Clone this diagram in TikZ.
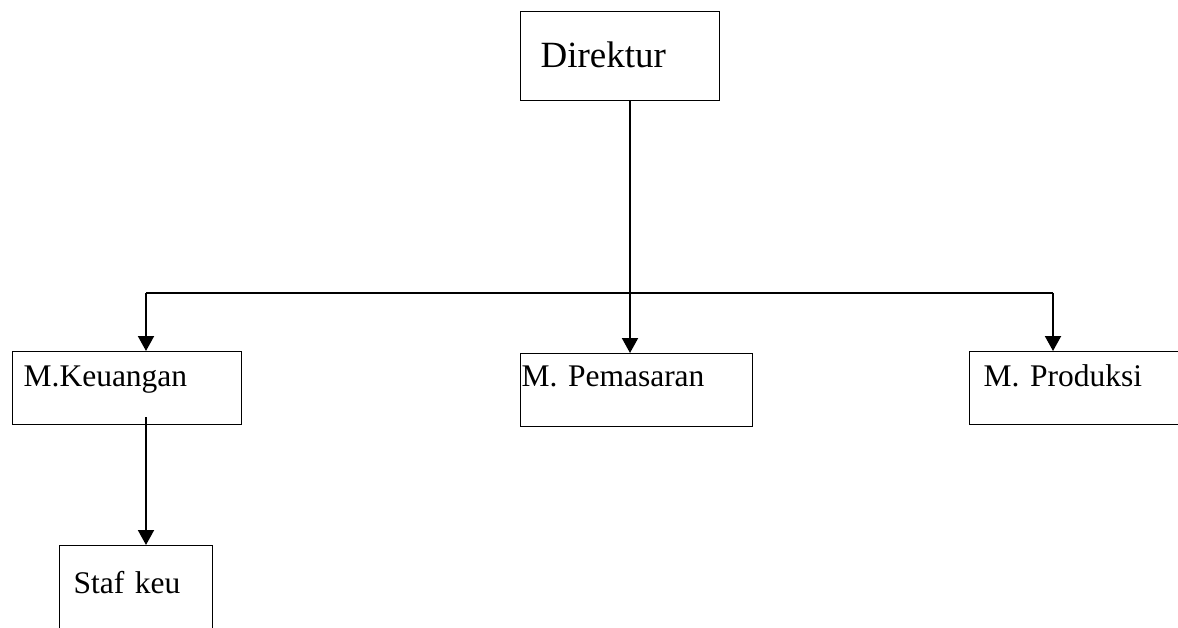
\documentclass[tikz,border=0pt]{standalone}
\usepackage{fontspec}
\setmainfont{Liberation Serif}
\usetikzlibrary{arrows.meta}

\begin{document}
\begin{tikzpicture}[x=1pt,y=-1pt,
    kotak/.style={draw,line width=1.3pt,anchor=north west,inner ysep=0pt,align=left,
        font=\fontsize{31.5}{36}\selectfont},
    panah/.style={line width=2pt,-{Triangle[width=16pt,length=15pt]}},
    garis/.style={line width=1.5pt}]
            \useasboundingbox (0,0) rectangle (1178,628);
            \clip (0,0) rectangle (1178,628);

            \node[kotak,font=\fontsize{37}{42}\selectfont,inner xsep=20pt,text width=159pt,
                text height=56pt,text depth=33pt] (dir) at (520,11) {Direktur};
            \node[kotak,inner xsep=11pt,text width=207pt,text height=35pt,text depth=38pt]
                (keu) at (12,351) {M.Keuangan};
            \node[kotak,inner xsep=1pt,text width=230pt,text height=33pt,text depth=40pt]
                (pem) at (520,353) {M. Pemasaran};
            \node[kotak,inner xsep=14pt,text width=203pt,text height=35pt,text depth=38pt]
                (prod) at (969,351) {M. Produksi};
            \node[kotak,inner xsep=14pt,text width=125pt,text height=48pt,text depth=50pt]
                (staf) at (59,545) {Staf keu};

            \coordinate (tengah) at (630,293);
            \coordinate (kiri) at (146,293);
            \coordinate (kanan) at (1053,293);
            \coordinate (bawahkeu) at (146,417);

            \draw[panah] (dir.south -| tengah) -- (pem.north -| tengah);
            \draw[garis] (kiri) -- (kanan);
            \draw[panah] (kiri) -- (keu.north -| kiri);
            \draw[panah] (kanan) -- (prod.north -| kanan);
            \draw[panah] (bawahkeu) -- (staf.north -| bawahkeu);
        \end{tikzpicture}
\end{document}
